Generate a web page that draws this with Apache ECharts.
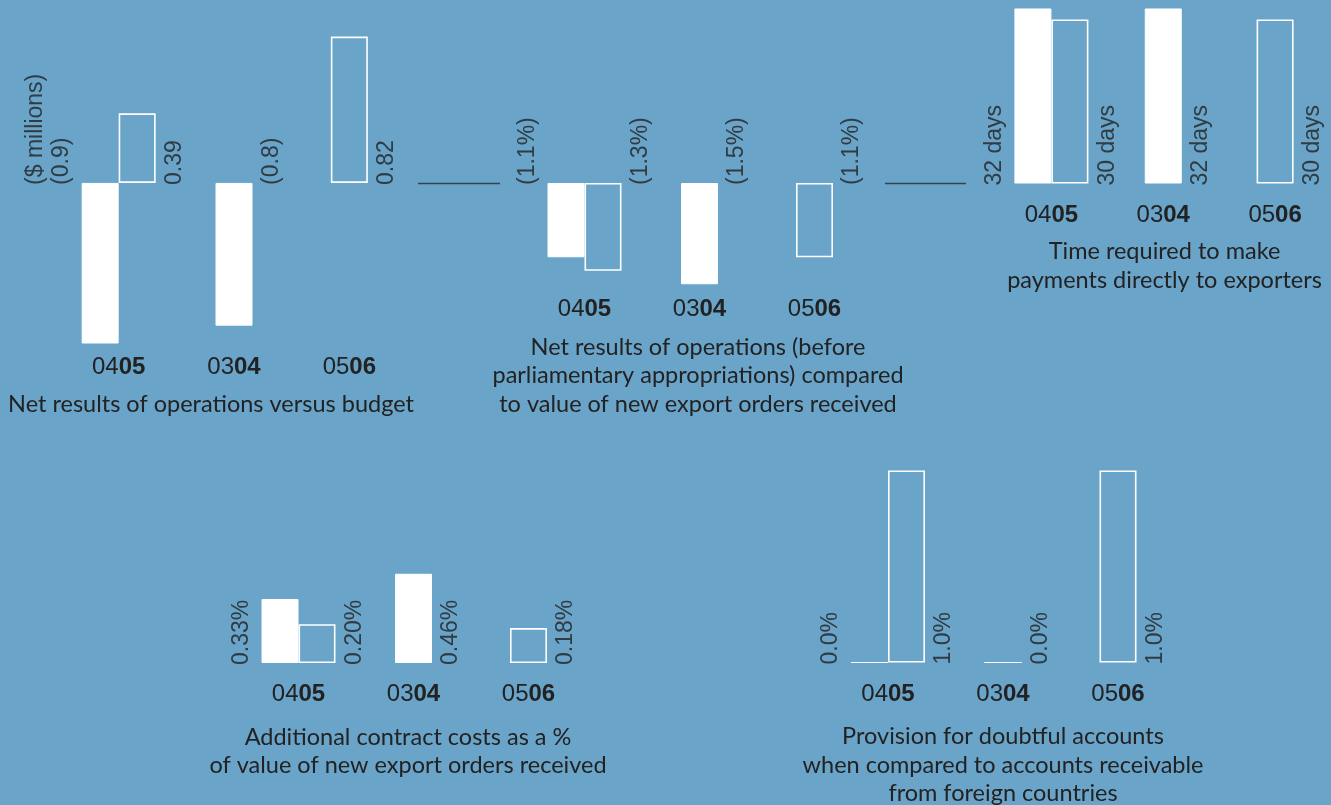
<!DOCTYPE html>
<html>
<head>
<meta charset="utf-8">
<script src="https://cdn.jsdelivr.net/npm/echarts@6/dist/echarts.min.js"></script>
<style>
  html, body { margin: 0; padding: 0; background: #6aa4c9; }
  #chart { width: 1331px; height: 805px; }
</style>
</head>
<body>
<div id="chart"></div>
<script>
// Fiscal years: 0405 = 2004-05, 0304 = 2003-04, 0506 = 2005-06
const categories = ['0405', '0304', '0506'];

// Filled bars: actual results (0405, 0304). Outlined bars: targets (0405, 0506).
const netResultsActual = [-0.9, -0.8, null];
const netResultsBudget = [0.39, null, 0.82];
const netResultsUnit = '($ millions)';

const netVsOrdersActual = [-1.1, -1.5, null];
const netVsOrdersTarget = [-1.3, null, -1.1];

const paymentDaysActual = [32, 32, null];
const paymentDaysTarget = [30, null, 30];

const contractCostsActual = [0.33, 0.46, null];
const contractCostsTarget = [0.20, null, 0.18];

const provisionActual = [0.0, 0.0, null];
const provisionTarget = [1.0, null, 1.0];

const panelTitles = [
  'Net results of operations versus budget',
  'Net results of operations (before\nparliamentary appropriations) compared\nto value of new export orders received',
  'Time required to make\npayments directly to exporters',
  'Additional contract costs as a %\nof value of new export orders received',
  'Provision for doubtful accounts\nwhen compared to accounts receivable\nfrom foreign countries'
];

// Value label formats
const paren = (v, s) => (v < 0 ? '(' + s + ')' : s);
const fmtMillions = v => paren(v, String(Math.abs(v)));
const fmtPct1 = v => paren(v, Math.abs(v).toFixed(1) + '%');
const fmtPct2 = v => paren(v, Math.abs(v).toFixed(2) + '%');
const fmtDays = v => v + ' days';

const TEXT = '#222';
const LABEL_FONT = 'Liberation Sans, Arial, sans-serif';
const TITLE_FONT = 'Lato, "Open Sans", sans-serif';
const BAR_W = 37;

const filledStyle = { color: '#ffffff', borderColor: '#ffffff', borderWidth: 1 };
const outlineStyle = { color: 'rgba(255,255,255,0)', borderColor: '#ffffff', borderWidth: 1.6 };

// Panel layout: grid box, value range, category-label margin, title placement
const panels = [
  { actual: netResultsActual, target: netResultsBudget, fmt: fmtMillions, unit: netResultsUnit,
    grid: { left: 61, top: 4.5, width: 346, height: 339 }, min: -0.9, max: 1, margin: 12,
    title: { x: 211, y: 404.5 } },
  { actual: netVsOrdersActual, target: netVsOrdersTarget, fmt: fmtPct1,
    grid: { left: 527, top: 149.25, width: 345, height: 141.75 }, min: -1.6, max: 0.5, margin: 6,
    title: { x: 698, y: 375.8 } },
  { actual: paymentDaysActual, target: paymentDaysTarget, fmt: fmtDays,
    grid: { left: 995.5, top: 3, width: 345, height: 180.5 }, min: 0, max: 33, margin: 19.5,
    title: { x: 1164.5, y: 265.7 } },
  { actual: contractCostsActual, target: contractCostsTarget, fmt: fmtPct2,
    grid: { left: 241, top: 566, width: 345, height: 97 }, min: 0, max: 0.5, margin: 19,
    title: { x: 408, y: 751.6 } },
  { actual: provisionActual, target: provisionTarget, fmt: fmtPct1,
    grid: { left: 830.5, top: 470.5, width: 345, height: 192 }, min: 0, max: 1, margin: 19.5,
    title: { x: 1003, y: 765 } }
];

const grids = [], xAxes = [], yAxes = [], series = [], graphics = [];

const valueLabel = (text, dx) => ({
  show: true,
  formatter: text,
  position: [dx, 2.5],
  rotate: 90,
  align: 'left',
  verticalAlign: 'middle',
  fontSize: 23,
  lineHeight: 26.5,
  fontFamily: LABEL_FONT,
  color: TEXT
});

panels.forEach((p, i) => {
  grids.push(Object.assign({ containLabel: false }, p.grid));
  const hidden = { show: false };
  // x axis carrying the paired (0405) bars and the category labels
  xAxes.push({
    type: 'category', gridIndex: i, data: categories, position: 'bottom',
    axisLine: { show: false, onZero: false }, axisTick: hidden, splitLine: hidden,
    axisLabel: {
      show: true, interval: 0, margin: p.margin,
      formatter: v => '{n|' + v.slice(0, 2) + '}{b|' + v.slice(2) + '}',
      rich: {
        n: { fontSize: 24, fontFamily: LABEL_FONT, color: TEXT },
        b: { fontSize: 24, fontFamily: LABEL_FONT, color: TEXT, fontWeight: 'bold' }
      }
    }
  });
  // x axis carrying the single bars (0304, 0506), centred on their category
  xAxes.push({
    type: 'category', gridIndex: i, data: categories, position: 'bottom',
    axisLine: { show: false, onZero: false }, axisTick: hidden, splitLine: hidden,
    axisLabel: hidden
  });
  yAxes.push({
    type: 'value', gridIndex: i, min: p.min, max: p.max,
    axisLine: hidden, axisTick: hidden, axisLabel: hidden, splitLine: hidden
  });

  const xPair = 2 * i, xSingle = 2 * i + 1;
  series.push({
    type: 'bar', xAxisIndex: xPair, yAxisIndex: i, barWidth: BAR_W, barGap: '0%',
    data: [p.actual[0], '-', '-'], itemStyle: filledStyle, silent: true, clip: false
  });
  series.push({
    type: 'bar', xAxisIndex: xPair, yAxisIndex: i, barWidth: BAR_W, barGap: '0%',
    data: [p.target[0], '-', '-'], itemStyle: outlineStyle, silent: true, clip: false
  });
  series.push({
    type: 'bar', xAxisIndex: xSingle, yAxisIndex: i, barWidth: BAR_W,
    data: ['-', { value: p.actual[1], itemStyle: filledStyle }, { value: p.target[2], itemStyle: outlineStyle }],
    silent: true, clip: false
  });

  // Rotated value labels, anchored at the baseline beside each bar
  const leftText = p.unit ? p.unit + '\n' + p.fmt(p.actual[0]) : p.fmt(p.actual[0]);
  const leftDx = p.unit ? -69.5 : -56.5;
  const marker = { symbolSize: 1, itemStyle: { color: 'rgba(0,0,0,0)' }, silent: true, clip: false, z: 5 };
  series.push(Object.assign({
    type: 'scatter', xAxisIndex: xPair, yAxisIndex: i,
    data: [
      { value: [0, 0], label: valueLabel(leftText, leftDx) },
      { value: [0, 0], label: valueLabel(p.fmt(p.target[0]), 56.5) }
    ]
  }, marker));
  series.push(Object.assign({
    type: 'scatter', xAxisIndex: xSingle, yAxisIndex: i,
    data: [
      { value: [1, 0], label: valueLabel(p.fmt(p.actual[1]), 38) },
      { value: [2, 0], label: valueLabel(p.fmt(p.target[2]), 38) }
    ]
  }, marker));

  graphics.push({
    type: 'text', x: p.title.x, y: p.title.y, silent: true,
    style: {
      text: panelTitles[i], fill: TEXT, fontSize: 23.5, fontFamily: TITLE_FONT,
      lineHeight: 28.5, align: 'center', verticalAlign: 'middle',
      textAlign: 'center', textVerticalAlign: 'middle'
    }
  });
});

// Dark baseline rules either side of the second panel
const ruleStyle = { stroke: '#34444f', lineWidth: 1.5 };
graphics.push({ type: 'line', silent: true, shape: { x1: 418, y1: 183.5, x2: 500, y2: 183.5 }, style: ruleStyle });
graphics.push({ type: 'line', silent: true, shape: { x1: 885, y1: 183.5, x2: 966, y2: 183.5 }, style: ruleStyle });

const chart = echarts.init(document.getElementById('chart'), null, { renderer: 'canvas' });
chart.setOption({
  backgroundColor: '#6aa4c9',
  animation: false,
  grid: grids,
  xAxis: xAxes,
  yAxis: yAxes,
  series: series,
  graphic: graphics
});
</script>
</body>
</html>
